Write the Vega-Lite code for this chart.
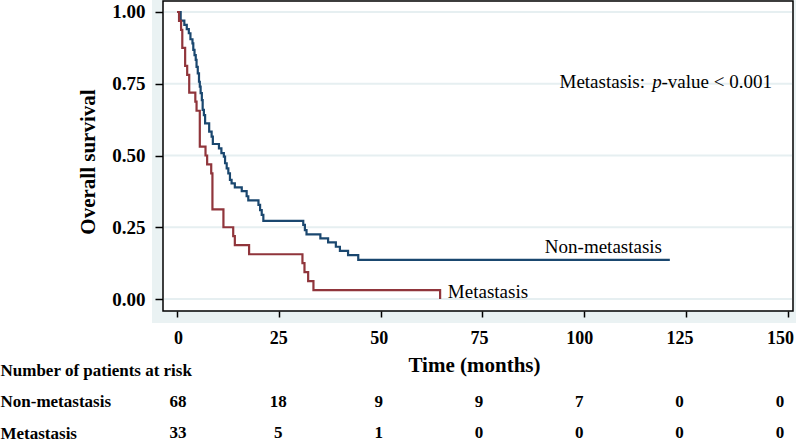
{
  "$schema": "https://vega.github.io/schema/vega-lite/v6.json",
  "padding": 0,
  "background": "white",
  "bounds": "flush",
  "spacing": 47,
  "config": {"font": "Liberation Serif", "view": {"stroke": null}},
  "datasets": {
    "km": [
      {"group": "Non-metastasis", "t": 0, "s": 1},
      {"group": "Non-metastasis", "t": 0.9, "s": 0.970},
      {"group": "Non-metastasis", "t": 1.8, "s": 0.955},
      {"group": "Non-metastasis", "t": 2.4, "s": 0.940},
      {"group": "Non-metastasis", "t": 2.9, "s": 0.926},
      {"group": "Non-metastasis", "t": 3.3, "s": 0.905},
      {"group": "Non-metastasis", "t": 3.8, "s": 0.891},
      {"group": "Non-metastasis", "t": 4.0, "s": 0.868},
      {"group": "Non-metastasis", "t": 4.3, "s": 0.850},
      {"group": "Non-metastasis", "t": 4.6, "s": 0.833},
      {"group": "Non-metastasis", "t": 4.8, "s": 0.809},
      {"group": "Non-metastasis", "t": 5.1, "s": 0.786},
      {"group": "Non-metastasis", "t": 5.4, "s": 0.757},
      {"group": "Non-metastasis", "t": 5.6, "s": 0.740},
      {"group": "Non-metastasis", "t": 5.8, "s": 0.717},
      {"group": "Non-metastasis", "t": 6.1, "s": 0.693},
      {"group": "Non-metastasis", "t": 6.3, "s": 0.659},
      {"group": "Non-metastasis", "t": 6.6, "s": 0.641},
      {"group": "Non-metastasis", "t": 6.9, "s": 0.612},
      {"group": "Non-metastasis", "t": 7.9, "s": 0.583},
      {"group": "Non-metastasis", "t": 8.5, "s": 0.566},
      {"group": "Non-metastasis", "t": 8.8, "s": 0.540},
      {"group": "Non-metastasis", "t": 10.3, "s": 0.525},
      {"group": "Non-metastasis", "t": 10.9, "s": 0.508},
      {"group": "Non-metastasis", "t": 11.5, "s": 0.496},
      {"group": "Non-metastasis", "t": 11.8, "s": 0.473},
      {"group": "Non-metastasis", "t": 12.2, "s": 0.455},
      {"group": "Non-metastasis", "t": 12.6, "s": 0.438},
      {"group": "Non-metastasis", "t": 13.0, "s": 0.415},
      {"group": "Non-metastasis", "t": 13.4, "s": 0.403},
      {"group": "Non-metastasis", "t": 14.2, "s": 0.389},
      {"group": "Non-metastasis", "t": 15.9, "s": 0.376},
      {"group": "Non-metastasis", "t": 17.1, "s": 0.358},
      {"group": "Non-metastasis", "t": 17.5, "s": 0.344},
      {"group": "Non-metastasis", "t": 20.0, "s": 0.328},
      {"group": "Non-metastasis", "t": 20.4, "s": 0.310},
      {"group": "Non-metastasis", "t": 20.8, "s": 0.293},
      {"group": "Non-metastasis", "t": 21.2, "s": 0.272},
      {"group": "Non-metastasis", "t": 31.0, "s": 0.258},
      {"group": "Non-metastasis", "t": 31.4, "s": 0.240},
      {"group": "Non-metastasis", "t": 31.8, "s": 0.225},
      {"group": "Non-metastasis", "t": 35.2, "s": 0.211},
      {"group": "Non-metastasis", "t": 37.1, "s": 0.197},
      {"group": "Non-metastasis", "t": 39.0, "s": 0.182},
      {"group": "Non-metastasis", "t": 40.0, "s": 0.168},
      {"group": "Non-metastasis", "t": 42.0, "s": 0.153},
      {"group": "Non-metastasis", "t": 44.5, "s": 0.136},
      {"group": "Non-metastasis", "t": 121, "s": 0.136},
      {"group": "Metastasis", "t": 0, "s": 1},
      {"group": "Metastasis", "t": 0.5, "s": 0.969},
      {"group": "Metastasis", "t": 1.0, "s": 0.938},
      {"group": "Metastasis", "t": 1.3, "s": 0.875},
      {"group": "Metastasis", "t": 2.0, "s": 0.8125},
      {"group": "Metastasis", "t": 2.5, "s": 0.781},
      {"group": "Metastasis", "t": 3.0, "s": 0.719},
      {"group": "Metastasis", "t": 4.5, "s": 0.6875},
      {"group": "Metastasis", "t": 4.8, "s": 0.656},
      {"group": "Metastasis", "t": 5.6, "s": 0.531},
      {"group": "Metastasis", "t": 7.0, "s": 0.5},
      {"group": "Metastasis", "t": 7.4, "s": 0.469},
      {"group": "Metastasis", "t": 8.4, "s": 0.4375},
      {"group": "Metastasis", "t": 8.7, "s": 0.3125},
      {"group": "Metastasis", "t": 11.4, "s": 0.25},
      {"group": "Metastasis", "t": 13.8, "s": 0.219},
      {"group": "Metastasis", "t": 14.2, "s": 0.1875},
      {"group": "Metastasis", "t": 17.7, "s": 0.156},
      {"group": "Metastasis", "t": 30.8, "s": 0.125},
      {"group": "Metastasis", "t": 31.3, "s": 0.094},
      {"group": "Metastasis", "t": 32.2, "s": 0.0625},
      {"group": "Metastasis", "t": 33.5, "s": 0.031},
      {"group": "Metastasis", "t": 64.6, "s": 0.031},
      {"group": "Metastasis", "t": 64.6, "s": 0}
    ],
    "grid": [{"v": 0}, {"v": 0.25}, {"v": 0.5}, {"v": 0.75}, {"v": 1}],
    "one": [{}],
    "risk": [
      {"row": "Non-metastasis", "t": 0, "n": 68},
      {"row": "Non-metastasis", "t": 25, "n": 18},
      {"row": "Non-metastasis", "t": 50, "n": 9},
      {"row": "Non-metastasis", "t": 75, "n": 9},
      {"row": "Non-metastasis", "t": 100, "n": 7},
      {"row": "Non-metastasis", "t": 125, "n": 0},
      {"row": "Non-metastasis", "t": 150, "n": 0},
      {"row": "Metastasis", "t": 0, "n": 33},
      {"row": "Metastasis", "t": 25, "n": 5},
      {"row": "Metastasis", "t": 50, "n": 1},
      {"row": "Metastasis", "t": 75, "n": 0},
      {"row": "Metastasis", "t": 100, "n": 0},
      {"row": "Metastasis", "t": 125, "n": 0},
      {"row": "Metastasis", "t": 150, "n": 0}
    ]
  },
  "vconcat": [
    {
      "width": 644,
      "height": 323,
      "view": {"fill": "#EAF2F3", "stroke": null},
      "layer": [
        {
          "data": {"name": "one"},
          "mark": {"type": "rect", "fill": "white", "stroke": "#000000", "strokeWidth": 1.5},
          "encoding": {
            "x": {
              "datum": -3.437, "type": "quantitative",
              "scale": {"domain": [-6.138, 151.977], "nice": false, "zero": false},
              "axis": {
                "values": [0, 25, 50, 75, 100, 125, 150],
                "labels": false, "offset": -12, "domain": false, "grid": false,
                "tickSize": 6, "tickColor": "#000000", "tickWidth": 1.5,
                "title": "Time (months)", "titleFontSize": 21, "titleFontWeight": "bold",
                "titleColor": "#000000", "titlePadding": 37
              }
            },
            "x2": {"datum": 151.24},
            "y": {
              "datum": 1.0383, "type": "quantitative",
              "scale": {"domain": [-0.0836, 1.0418], "nice": false, "zero": false},
              "axis": {
                "values": [0, 0.25, 0.5, 0.75, 1], "format": ".2f",
                "offset": -11, "domain": false, "grid": false,
                "tickSize": 8, "tickColor": "#000000", "tickWidth": 1.5,
                "labelFontSize": 19, "labelFontWeight": "bold", "labelColor": "#000000", "labelPadding": 10,
                "title": "Overall survival", "titleFontSize": 21, "titleFontWeight": "bold",
                "titleColor": "#000000", "titlePadding": 13
              }
            },
            "y2": {"datum": -0.0418}
          }
        },
        {
          "data": {"name": "grid"},
          "mark": {"type": "rule", "stroke": "#E6EFF1", "strokeWidth": 2},
          "encoding": {
            "y": {"field": "v", "type": "quantitative"},
            "x": {"datum": -3.2, "type": "quantitative"},
            "x2": {"datum": 151.0}
          }
        },
        {
          "data": {"name": "km"},
          "mark": {"type": "line", "interpolate": "step-after", "strokeWidth": 2.2},
          "encoding": {
            "x": {"field": "t", "type": "quantitative"},
            "y": {"field": "s", "type": "quantitative"},
            "color": {
              "field": "group", "type": "nominal",
              "scale": {"domain": ["Non-metastasis", "Metastasis"], "range": ["#1A476F", "#90353B"]},
              "legend": null
            }
          }
        },
        {
          "data": {"name": "one"},
          "mark": {"type": "text", "fontSize": 19, "color": "#000000", "align": "center", "baseline": "middle"},
          "encoding": {
            "x": {"datum": 104.7, "type": "quantitative"},
            "y": {"datum": 0.181, "type": "quantitative"},
            "text": {"value": "Non-metastasis"}
          }
        },
        {
          "data": {"name": "one"},
          "mark": {"type": "text", "fontSize": 19, "color": "#000000", "align": "left", "baseline": "middle"},
          "encoding": {
            "x": {"datum": 66.5, "type": "quantitative"},
            "y": {"datum": 0.0244, "type": "quantitative"},
            "text": {"value": "Metastasis"}
          }
        },
        {
          "data": {"name": "one"},
          "mark": {"type": "text", "fontSize": 19, "color": "#000000", "align": "right", "baseline": "middle", "dx": -12},
          "encoding": {
            "x": {"datum": 117.85, "type": "quantitative"},
            "y": {"datum": 0.756, "type": "quantitative"},
            "text": {"value": "Metastasis:"}
          }
        },
        {
          "data": {"name": "one"},
          "mark": {"type": "text", "fontSize": 19, "fontStyle": "italic", "color": "#000000", "align": "center", "baseline": "middle"},
          "encoding": {
            "x": {"datum": 117.85, "type": "quantitative"},
            "y": {"datum": 0.756, "type": "quantitative"},
            "text": {"value": "p"}
          }
        },
        {
          "data": {"name": "one"},
          "mark": {"type": "text", "fontSize": 19, "color": "#000000", "align": "left", "baseline": "middle", "dx": 4.5},
          "encoding": {
            "x": {"datum": 117.85, "type": "quantitative"},
            "y": {"datum": 0.756, "type": "quantitative"},
            "text": {"value": "-value < 0.001"}
          }
        }
      ]
    },
    {
      "width": 644,
      "height": 63,
      "data": {"name": "risk"},
      "mark": {"type": "text", "fontSize": 17, "fontWeight": "bold", "color": "#000000", "align": "center", "baseline": "middle"},
      "encoding": {
        "x": {
          "field": "t", "type": "quantitative",
          "scale": {"domain": [-6.479, 154.0], "nice": false, "zero": false},
          "axis": {
            "orient": "top", "values": [0, 25, 50, 75, 100, 125, 150],
            "domain": false, "ticks": false, "tickSize": 0, "grid": false, "labelFlush": false,
            "labelFontSize": 18, "labelFontWeight": "bold", "labelColor": "#000000",
            "labelPadding": 23, "title": null
          }
        },
        "y": {
          "field": "row", "type": "nominal",
          "scale": {"type": "point", "domain": ["Number of patients at risk", "Non-metastasis", "Metastasis"], "padding": 0},
          "axis": {
            "domain": false, "ticks": false, "tickSize": 0, "grid": false,
            "labelAlign": "left", "labelBaseline": "middle", "labelPadding": 152, "labelLimit": 400,
            "labelFontSize": 17, "labelFontWeight": "bold", "labelColor": "#000000", "title": null
          }
        },
        "text": {"field": "n", "type": "quantitative"}
      }
    }
  ]
}
